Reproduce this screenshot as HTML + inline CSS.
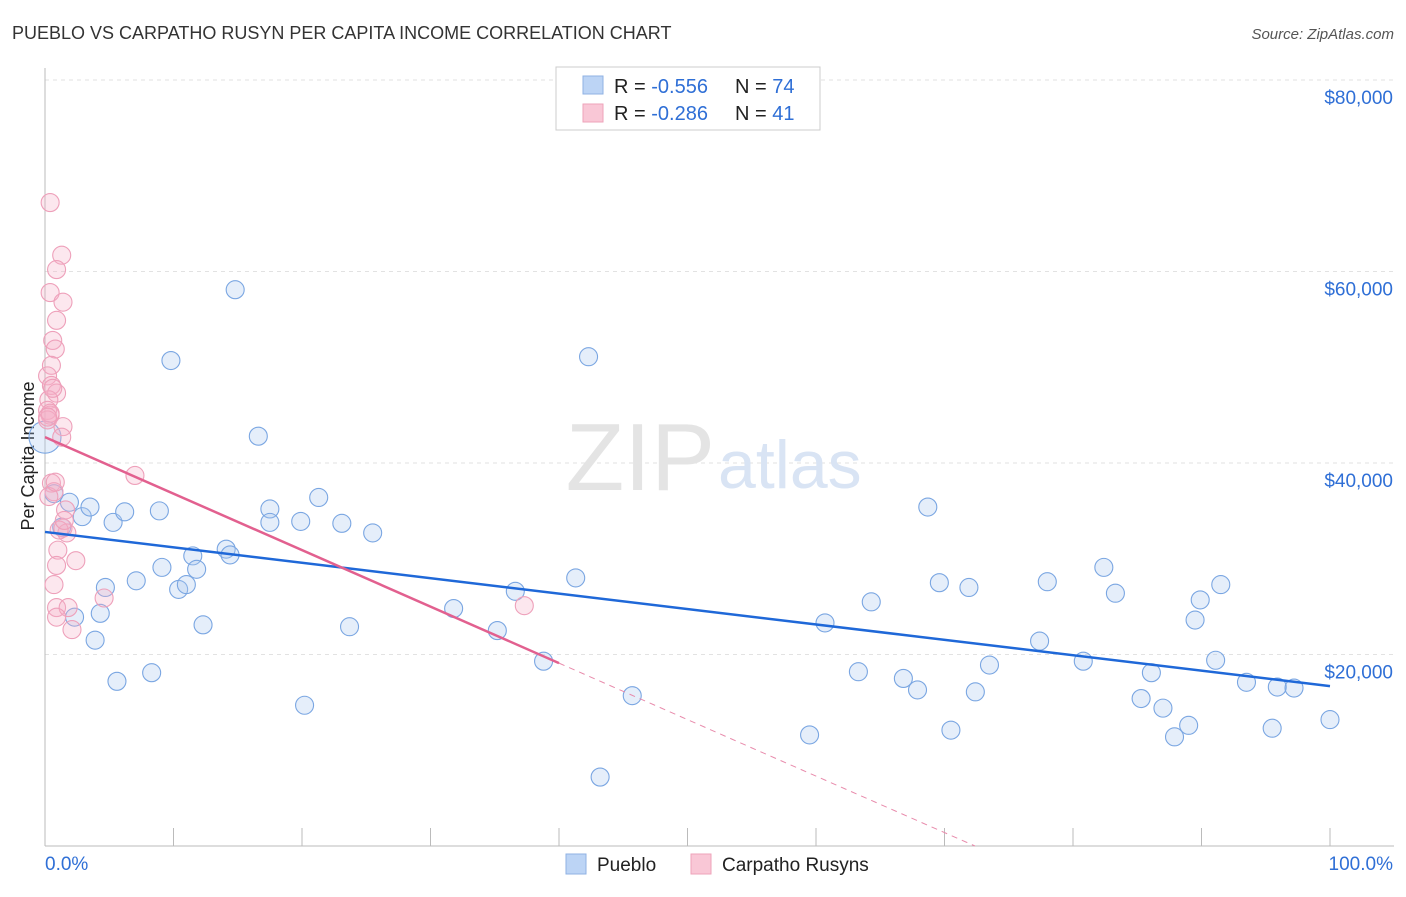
<!DOCTYPE html>
<html><head><meta charset="utf-8"><style>
body{margin:0;background:#fff;font-family:"Liberation Sans",sans-serif;}
svg text{font-family:"Liberation Sans",sans-serif;}
</style></head><body>
<svg id="chart" width="1406" height="892">
<text x="12" y="39" font-size="18" fill="#333">PUEBLO VS CARPATHO RUSYN PER CAPITA INCOME CORRELATION CHART</text>
<text x="1394" y="39" font-size="15" fill="#555" font-style="italic" text-anchor="end">Source: ZipAtlas.com</text>
<text x="34" y="456" font-size="18" fill="#222" text-anchor="middle" transform="rotate(-90 34 456)">Per Capita Income</text>
<g id="grid"></g>
<text x="715" y="490" font-size="96" fill="#e4e4e4" font-family="Liberation Serif" text-anchor="end">ZIP</text>
<text x="718" y="488" font-size="68" fill="#d9e4f4">atlas</text>
<g id="marks"></g>
<g>
<rect x="556" y="67" width="264" height="63" fill="#fff" stroke="#ccc"/>
<rect x="583" y="76" width="20" height="18" fill="#bcd4f5" stroke="#8fb2e3"/>
<rect x="583" y="104" width="20" height="18" fill="#f9c7d6" stroke="#eea3ba"/>
<text x="614" y="93" font-size="20" fill="#222">R = <tspan fill="#2f6fd6">-0.556</tspan></text>
<text x="735" y="93" font-size="20" fill="#222">N = <tspan fill="#2f6fd6">74</tspan></text>
<text x="614" y="120" font-size="20" fill="#222">R = <tspan fill="#2f6fd6">-0.286</tspan></text>
<text x="735" y="120" font-size="20" fill="#222">N =  <tspan fill="#2f6fd6">41</tspan></text>
</g>
<g>
<rect x="566" y="854" width="20" height="20" fill="#bcd4f5" stroke="#8fb2e3"/>
<text x="597" y="871" font-size="19" fill="#222">Pueblo</text>
<rect x="691" y="854" width="20" height="20" fill="#f9c7d6" stroke="#eea3ba"/>
<text x="722" y="871" font-size="19" fill="#222">Carpatho Rusyns</text>
</g>
</svg>
<script>
const yTicks=[20000,40000,60000,80000];
const yTickLabels=["$20,000","$40,000","$60,000","$80,000"];
const puebloX=[0,0.7,1.9,1.3,2.9,3.5,5.3,6.2,4.7,4.3,2.3,3.9,5.6,7.1,8.3,8.9,9.1,9.8,10.4,11.0,11.5,11.8,12.3,14.1,14.4,14.8,16.6,17.5,17.5,19.9,20.2,21.3,23.1,23.7,25.5,31.8,35.2,36.6,38.8,41.3,42.3,43.2,45.7,59.5,60.7,63.3,64.3,66.8,67.9,68.7,69.6,70.5,71.9,72.4,73.5,77.4,78.0,80.8,82.4,83.3,85.3,86.1,87.0,87.9,89.0,89.5,89.9,91.1,91.5,93.5,95.5,95.9,97.2,100];
const puebloY=[42700,36800,35900,33300,34400,35400,33800,34900,27000,24300,23900,21500,17200,27700,18100,35000,29100,50700,26800,27300,30300,28900,23100,31000,30400,58100,42800,35200,33800,33900,14700,36400,33700,22900,32700,24800,22500,26600,19300,28000,51100,7200,15700,11600,23300,18200,25500,17500,16300,35400,27500,12100,27000,16100,18900,21400,27600,19300,29100,26400,15400,18100,14400,11400,12600,23600,25700,19400,27300,17100,12300,16600,16500,13200];
const rusynX=[0.4,1.3,0.9,0.4,1.4,0.9,0.6,0.8,0.5,0.2,0.5,0.9,0.3,0.2,0.4,0.2,1.4,1.3,7.0,0.5,0.7,1.6,1.4,1.7,1.0,0.9,2.4,0.7,0.9,1.8,0.9,2.1,4.6,37.3,0.3,0.6,1.1,0.4,0.8,1.5,0.2];
const rusynY=[67200,61700,60200,57800,56800,54900,52800,51900,50200,49100,48100,47300,46600,45500,45000,44500,43800,42700,38700,37900,37000,35100,33200,32700,30900,29300,29800,27300,24900,24900,23900,22600,25900,25100,36500,47800,33000,45200,38000,34000,44800];
const puebloTrend=[32800,16700];
const rusynTrend=[42700,19100];
const X=v=>45+v*12.85, Y=v=>846-v*191.5/20000;
const NS="http://www.w3.org/2000/svg";
function mk(t,a,p){const e=document.createElementNS(NS,t);for(const k in a)e.setAttribute(k,a[k]);p.appendChild(e);return e;}
const grid=document.getElementById('grid'),marks=document.getElementById('marks');
yTicks.forEach((t,i)=>{
 const l=mk('line',{x1:45,x2:1394,y1:Y(t),y2:Y(t),stroke:'#e2e2e2','stroke-dasharray':'4,4'},grid);
 
 
 const tx=mk('text',{x:1393,y:Y(t)+24,'font-size':19,fill:'#2f6fd6','text-anchor':'end'},grid);tx.textContent=yTickLabels[i];
 
 
});
const ax=mk('line',{x1:45,x2:45,y1:68,y2:846,stroke:'#bbb'},grid);


const bx=mk('line',{x1:45,x2:1394,y1:846,y2:846,stroke:'#bbb'},grid);


for(let i=1;i<=10;i++){const t=mk('line',{x1:X(i*10),x2:X(i*10),y1:828,y2:846,stroke:'#bbb'},grid);
 
 }
const x0=mk('text',{x:45,y:870,'font-size':19,fill:'#2f6fd6'},grid);x0.textContent='0.0%';


const x1=mk('text',{x:1393,y:870,'font-size':19,fill:'#2f6fd6','text-anchor':'end'},grid);x1.textContent='100.0%';


puebloX.forEach((x,i)=>{const c=mk('circle',{cx:X(x),cy:Y(puebloY[i]),r:i==0?16:9,fill:'rgba(170,200,240,0.3)',stroke:'#7aa6e2','stroke-width':1.1},marks);
 
 });
rusynX.forEach((x,i)=>{const c=mk('circle',{cx:X(x),cy:Y(rusynY[i]),r:9,fill:'rgba(245,175,200,0.3)',stroke:'#eea0ba','stroke-width':1.1},marks);
 
 });
const pl=mk('line',{x1:X(0),y1:Y(puebloTrend[0]),x2:X(100),y2:Y(puebloTrend[1]),stroke:'#1f68d8','stroke-width':2.5},marks);


const slope=(rusynTrend[1]-rusynTrend[0])/40, xz=-rusynTrend[0]/slope;
const rl=mk('line',{x1:X(0),y1:Y(rusynTrend[0]),x2:X(40),y2:Y(rusynTrend[1]),stroke:'#e2608f','stroke-width':2.5},marks);


const rd=mk('line',{x1:X(40),y1:Y(rusynTrend[1]),x2:X(xz),y2:Y(0),stroke:'#e88aab','stroke-width':1,'stroke-dasharray':'6,5'},marks);


</script>
</body></html>
